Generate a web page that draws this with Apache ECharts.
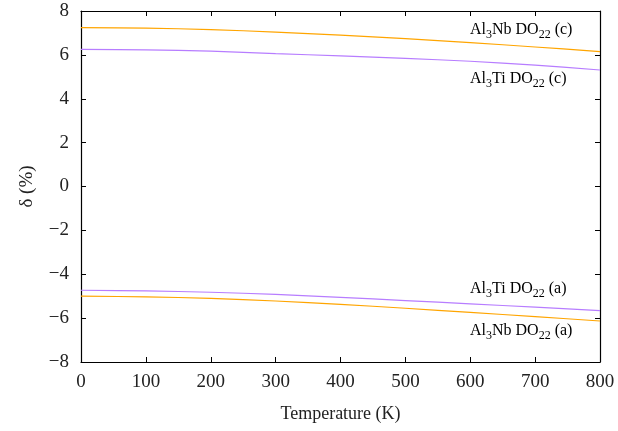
<!DOCTYPE html>
<html>
<head>
<meta charset="utf-8">
<script src="https://cdn.jsdelivr.net/npm/echarts@6/dist/echarts.min.js"></script>
<style>
  html, body { margin: 0; padding: 0; background: #fff; }
  #chart_main { width: 618px; height: 431px; }
</style>
</head>
<body>
<div id="chart_main"></div>
<script>
  // temperatures (K)
  var temps = [0, 100, 200, 300, 400, 500, 600, 700, 800];
  // delta (%)
  var nbC = [7.24, 7.22, 7.15, 7.04, 6.90, 6.74, 6.56, 6.36, 6.15];
  var tiC = [6.25, 6.23, 6.17, 6.06, 5.95, 5.84, 5.71, 5.53, 5.31];
  var tiA = [-4.73, -4.76, -4.82, -4.92, -5.05, -5.20, -5.35, -5.50, -5.66];
  var nbA = [-5.00, -5.03, -5.10, -5.22, -5.37, -5.55, -5.74, -5.93, -6.13];
  var xTicks = [0, 100, 200, 300, 400, 500, 600, 700, 800];
  var yTicks = [-8, -6, -4, -2, 0, 2, 4, 6, 8];

  var orange = '#ffa500';
  var purple = '#b77dff';
  var serif = '"Liberation Serif", "DejaVu Serif", serif';

  function pairs(vals) {
    var out = [];
    temps.forEach(function (t, i) { out.push([t, vals[i]]); });
    return out;
  }
  function minus(v) { return String(v).replace('-', '\u2212'); }

  var myChart = echarts.init(document.getElementById('chart_main'));

  var tickStyle = { show: true, inside: true, length: 5, lineStyle: { color: '#000' } };
  var lineStyle = { show: true, onZero: false, lineStyle: { color: '#000', width: 1.2 } };

  var rich = {
    n: { fontFamily: serif, fontSize: 16, lineHeight: 22, verticalAlign: 'middle', color: '#222' },
    s: { fontFamily: serif, fontSize: 12, lineHeight: 8, verticalAlign: 'bottom', color: '#222' }
  };
  function label(el, sub1, mid, sub2, end, y) {
    return {
      type: 'text', left: 470, top: y - 9,
      style: {
        text: '{n|' + el + '}{s|' + sub1 + '}{n|' + mid + '}{s|' + sub2 + '}{n|' + end + '}',
        rich: rich
      }
    };
  }

  var option = {
    backgroundColor: '#fff',
    animation: false,
    grid: { left: 81, right: 18, top: 11, bottom: 69 },
    xAxis: [
      {
        type: 'value', min: 0, max: 800, interval: 100,
        name: 'Temperature (K)', nameLocation: 'middle', nameGap: 43,
        nameTextStyle: { fontFamily: serif, fontSize: 18, color: '#222' },
        axisLine: lineStyle, axisTick: tickStyle, splitLine: { show: false },
        axisLabel: { fontFamily: serif, fontSize: 19, color: '#222', margin: 11,
          formatter: function (v) { return xTicks.indexOf(v) >= 0 ? v : ''; } }
      },
      {
        type: 'value', position: 'top', min: 0, max: 800, interval: 100,
        axisLine: lineStyle, axisTick: tickStyle, splitLine: { show: false },
        axisLabel: { show: false }
      }
    ],
    yAxis: [
      {
        type: 'value', min: -8, max: 8, interval: 2,
        name: '\u03b4 (%)', nameLocation: 'middle', nameGap: 44,
        nameTextStyle: { fontFamily: serif, fontSize: 19, color: '#222' },
        axisLine: lineStyle, axisTick: tickStyle, splitLine: { show: false },
        axisLabel: { fontFamily: serif, fontSize: 19, color: '#222', margin: 12,
          formatter: function (v) { return yTicks.indexOf(v) >= 0 ? minus(v) : ''; } }
      },
      {
        type: 'value', position: 'right', min: -8, max: 8, interval: 2,
        axisLine: lineStyle, axisTick: tickStyle, splitLine: { show: false },
        axisLabel: { show: false }
      }
    ],
    series: [
      { name: 'Al3Nb DO22 (c)', type: 'line', smooth: 0.3, showSymbol: false, data: pairs(nbC),
        lineStyle: { color: orange, width: 1.2 }, itemStyle: { color: orange } },
      { name: 'Al3Ti DO22 (c)', type: 'line', smooth: 0.3, showSymbol: false, data: pairs(tiC),
        lineStyle: { color: purple, width: 1.2 }, itemStyle: { color: purple } },
      { name: 'Al3Ti DO22 (a)', type: 'line', smooth: 0.3, showSymbol: false, data: pairs(tiA),
        lineStyle: { color: purple, width: 1.2 }, itemStyle: { color: purple } },
      { name: 'Al3Nb DO22 (a)', type: 'line', smooth: 0.3, showSymbol: false, data: pairs(nbA),
        lineStyle: { color: orange, width: 1.2 }, itemStyle: { color: orange } }
    ],
    graphic: [
      label('Al', '3', 'Nb DO', '22', ' (c)', 31),
      label('Al', '3', 'Ti DO', '22', ' (c)', 80),
      label('Al', '3', 'Ti DO', '22', ' (a)', 290),
      label('Al', '3', 'Nb DO', '22', ' (a)', 332)
    ]
  };

  myChart.setOption(option);
  window.addEventListener('resize', function () { myChart.resize(); });
</script>
</body>
</html>
